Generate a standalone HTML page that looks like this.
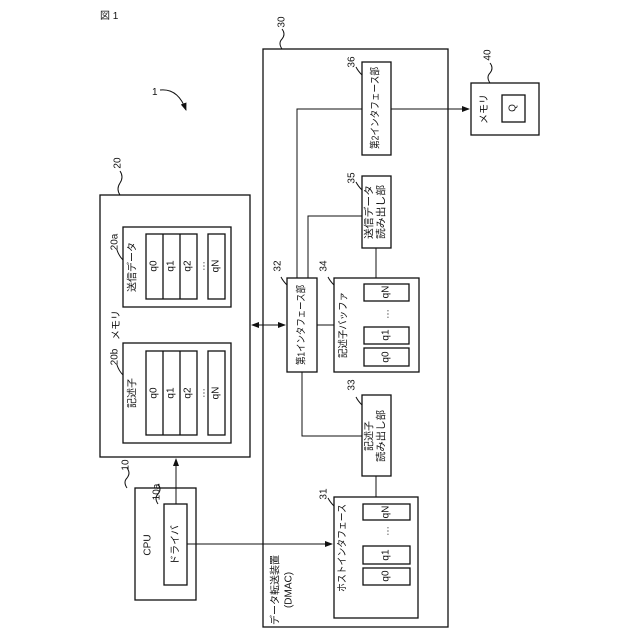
<!DOCTYPE html>
<html><head><meta charset="utf-8"><style>
html,body{margin:0;padding:0;background:#fff}
svg{display:block}
text{font-family:"Liberation Sans","Noto Sans CJK JP",sans-serif;font-size:10px;fill:#111}
</style></head><body>
<svg width="640" height="640" viewBox="0 0 640 640" xmlns="http://www.w3.org/2000/svg">
<defs><marker id="a" markerWidth="8" markerHeight="6" refX="7" refY="3" orient="auto"><path d="M0,0 L8,3 L0,6 z" fill="#111"/></marker></defs>
<g fill="none" stroke="#111" stroke-width="1.3">
<rect x="100" y="195" width="150" height="262"/>
<rect x="123" y="227" width="108" height="80"/>
<rect x="146" y="234" width="51" height="65"/>
<line x1="163" y1="234" x2="163" y2="299"/><line x1="180" y1="234" x2="180" y2="299"/>
<rect x="208" y="234" width="17" height="65"/>
<rect x="123" y="343" width="108" height="100"/>
<rect x="146" y="351" width="51" height="84"/>
<line x1="163" y1="351" x2="163" y2="435"/><line x1="180" y1="351" x2="180" y2="435"/>
<rect x="208" y="351" width="17" height="84"/>
<rect x="135" y="488" width="61" height="112"/>
<rect x="164" y="504" width="23" height="81"/>
<rect x="263" y="49" width="185" height="578"/>
<rect x="334" y="497" width="84" height="121"/>
<rect x="363" y="504" width="47" height="16"/>
<rect x="363" y="546" width="47" height="18"/>
<rect x="363" y="568" width="47" height="17"/>
<rect x="362" y="395" width="29" height="81"/>
<rect x="287" y="278" width="30" height="94"/>
<rect x="334" y="278" width="85" height="94"/>
<rect x="364" y="284" width="45" height="17"/>
<rect x="364" y="327" width="45" height="17"/>
<rect x="364" y="348" width="45" height="18"/>
<rect x="362" y="176" width="29" height="72"/>
<rect x="362" y="62" width="29" height="93"/>
<rect x="471" y="83" width="68" height="52"/>
<rect x="502" y="95" width="23" height="27"/>
</g>
<g fill="none" stroke="#111" stroke-width="1">
<line x1="176" y1="504" x2="176" y2="459" marker-end="url(#a)"/>
<line x1="187" y1="544" x2="332" y2="544" marker-end="url(#a)"/>
<line x1="252" y1="325" x2="285" y2="325" marker-end="url(#a)"/>
<line x1="285" y1="325" x2="252" y2="325" marker-end="url(#a)"/>
<line x1="317" y1="325" x2="334" y2="325"/>
<line x1="376" y1="476" x2="376" y2="497"/>
<polyline points="302,372 302,436 362,436"/>
<line x1="376" y1="248" x2="376" y2="278"/>
<polyline points="308,278 308,216 362,216"/>
<polyline points="297,278 297,109 362,109"/>
<line x1="391" y1="109" x2="469" y2="109" marker-end="url(#a)"/>
<path d="M120,195 q-4,-6 0,-12 q4,-6 0,-12"/>
<path d="M282,49 q-4,-6 0,-10 q4,-5 0,-10"/>
<path d="M127,488 q-4,-6 0,-10 q4,-5 0,-10"/>
<path d="M158,504 q-4,-6 0,-10 q4,-5 0,-10"/>
<path d="M490,83 q-4,-6 0,-10 q4,-5 0,-10"/>
<path d="M123,260 q-4,-4 -6,-10"/>
<path d="M123,375 q-4,-4 -6,-10"/>
<path d="M362,75 q-4,-4 -6,-8"/>
<path d="M362,190 q-4,-4 -6,-8"/>
<path d="M334,285 q-4,-4 -6,-8"/>
<path d="M287,285 q-4,-4 -6,-8"/>
<path d="M362,405 q-4,-4 -6,-8"/>
<path d="M334,506 q-4,-4 -6,-8"/>
<path d="M160,90 q18,-2 26,20" marker-end="url(#a)"/>
</g>
<text x="100" y="19" font-size="11">図 1</text>
<text x="152" y="95">1</text>
<g text-anchor="middle" dominant-baseline="central">
<text transform="translate(118,163) rotate(-90)">20</text>
<text transform="translate(282,22) rotate(-90)">30</text>
<text transform="translate(488,55) rotate(-90)">40</text>
<text transform="translate(126,465) rotate(-90)">10</text>
<text transform="translate(157,492) rotate(-90)">10a</text>
<text transform="translate(115,242) rotate(-90)">20a</text>
<text transform="translate(115,357) rotate(-90)">20b</text>
<text transform="translate(352,62) rotate(-90)">36</text>
<text transform="translate(352,178) rotate(-90)">35</text>
<text transform="translate(324,266) rotate(-90)">34</text>
<text transform="translate(278,266) rotate(-90)">32</text>
<text transform="translate(352,385) rotate(-90)">33</text>
<text transform="translate(324,494) rotate(-90)">31</text>
<text transform="translate(117,325) rotate(-90)">メモリ</text>
<text transform="translate(133,267) rotate(-90)">送信データ</text>
<text transform="translate(133,393) rotate(-90)">記述子</text>
<text transform="translate(154,266) rotate(-90)">q0</text>
<text transform="translate(171,266) rotate(-90)">q1</text>
<text transform="translate(188,266) rotate(-90)">q2</text>
<text transform="translate(202,266) rotate(-90)">…</text>
<text transform="translate(216,266) rotate(-90)">qN</text>
<text transform="translate(154,393) rotate(-90)">q0</text>
<text transform="translate(171,393) rotate(-90)">q1</text>
<text transform="translate(188,393) rotate(-90)">q2</text>
<text transform="translate(202,393) rotate(-90)">…</text>
<text transform="translate(216,393) rotate(-90)">qN</text>
<text transform="translate(148,545) rotate(-90)">CPU</text>
<text transform="translate(176,545) rotate(-90)">ドライバ</text>
<text transform="translate(276,590) rotate(-90)">データ転送装置</text>
<text transform="translate(289,590) rotate(-90)">(DMAC)</text>
<text transform="translate(343,548) rotate(-90)" textLength="88" lengthAdjust="spacingAndGlyphs">ホストインタフェース</text>
<text transform="translate(386,512) rotate(-90)">qN</text>
<text transform="translate(386,531) rotate(-90)">…</text>
<text transform="translate(386,555) rotate(-90)">q1</text>
<text transform="translate(386,576) rotate(-90)">q0</text>
<text transform="translate(370,436) rotate(-90)">記述子</text>
<text transform="translate(382,436) rotate(-90)" textLength="52" lengthAdjust="spacingAndGlyphs">読み出し部</text>
<text transform="translate(302,325) rotate(-90)" textLength="80" lengthAdjust="spacingAndGlyphs">第1インタフェース部</text>
<text transform="translate(344,325) rotate(-90)" textLength="66" lengthAdjust="spacingAndGlyphs">記述子バッファ</text>
<text transform="translate(386,292) rotate(-90)">qN</text>
<text transform="translate(386,314) rotate(-90)">…</text>
<text transform="translate(386,335) rotate(-90)">q1</text>
<text transform="translate(386,357) rotate(-90)">q0</text>
<text transform="translate(370,212) rotate(-90)" textLength="54" lengthAdjust="spacingAndGlyphs">送信データ</text>
<text transform="translate(382,212) rotate(-90)" textLength="54" lengthAdjust="spacingAndGlyphs">読み出し部</text>
<text transform="translate(376,108) rotate(-90)" textLength="82" lengthAdjust="spacingAndGlyphs">第2インタフェース部</text>
<text transform="translate(485,109) rotate(-90)">メモリ</text>
<text transform="translate(513,108) rotate(-90)">Q</text>
</g>
</svg>
</body></html>
